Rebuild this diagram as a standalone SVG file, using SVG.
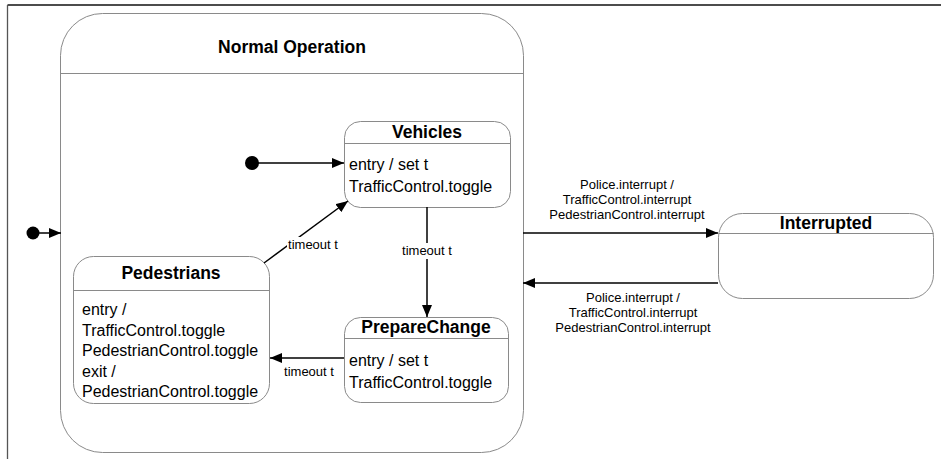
<svg xmlns="http://www.w3.org/2000/svg" width="941" height="459" viewBox="0 0 941 459">
  <style>
    .state { fill: #ffffff; stroke: #8a8a8a; stroke-width: 1; }
    .sep { stroke: #8a8a8a; stroke-width: 1; }
    .title { font-family: "Liberation Sans", Arial, sans-serif; font-weight: bold; font-size: 17.5px; fill: #000; text-anchor: middle; }
    .body { font-family: "Liberation Sans", Arial, sans-serif; font-size: 16px; fill: #000; }
    .lbl { font-family: "Liberation Sans", Arial, sans-serif; font-size: 13px; fill: #000; text-anchor: middle; }
    .edge { stroke: #000; stroke-width: 1.5; fill: none; marker-end: url(#arrow); }
    .dot { fill: #000; }
    .bg { fill: #ffffff; }
  </style>
  <defs>
    <marker id="arrow" viewBox="0 0 12 10" refX="12" refY="5" markerWidth="12" markerHeight="10" markerUnits="userSpaceOnUse" orient="auto">
      <path d="M0,0 L12,5 L0,10 Z" fill="#000"/>
    </marker>
  </defs>

  <rect width="941" height="459" fill="#ffffff"/>

  <!-- frame -->
  <g id="frame">
    <line x1="7.5" y1="5" x2="941" y2="5" stroke="#111" stroke-width="1.5"/>
    <line x1="7.5" y1="5" x2="7.5" y2="459" stroke="#555" stroke-width="1.3"/>
  </g>

  <!-- composite state -->
  <g id="normal-operation">
    <rect class="state" x="60.5" y="13.5" width="463" height="439" rx="42" ry="42"/>
    <line class="sep" x1="60.5" y1="73.5" x2="523.5" y2="73.5"/>
    <text class="title" x="292" y="53" font-size="18.5">Normal Operation</text>
  </g>

  <g id="vehicles">
    <rect class="state" x="344.5" y="121.5" width="166" height="86" rx="16" ry="16"/>
    <line class="sep" x1="344.5" y1="143.5" x2="510.5" y2="143.5"/>
    <text class="title" x="427" y="138">Vehicles</text>
    <text class="body" x="349" y="170">entry / set t</text>
    <text class="body" x="349" y="192">TrafficControl.toggle</text>
  </g>

  <g id="prepare-change">
    <rect class="state" x="344.5" y="317.5" width="164" height="85" rx="16" ry="16"/>
    <line class="sep" x1="344.5" y1="338.5" x2="508.5" y2="338.5"/>
    <text class="title" x="426" y="333">PrepareChange</text>
    <text class="body" x="349" y="366">entry / set t</text>
    <text class="body" x="349" y="388">TrafficControl.toggle</text>
  </g>

  <g id="pedestrians">
    <rect class="state" x="73.5" y="256.5" width="196" height="147" rx="20" ry="20"/>
    <line class="sep" x1="73.5" y1="290.5" x2="269.5" y2="290.5"/>
    <text class="title" x="171" y="279">Pedestrians</text>
    <text class="body" x="82" y="315">entry /</text>
    <text class="body" x="82" y="335.5">TrafficControl.toggle</text>
    <text class="body" x="82" y="356">PedestrianControl.toggle</text>
    <text class="body" x="82" y="376.5">exit /</text>
    <text class="body" x="82" y="397">PedestrianControl.toggle</text>
  </g>

  <g id="interrupted">
    <rect class="state" x="718.5" y="213.5" width="215" height="85" rx="24" ry="24"/>
    <line class="sep" x1="718.5" y1="233.5" x2="933.5" y2="233.5"/>
    <text class="title" x="826" y="229">Interrupted</text>
  </g>

  <!-- initial pseudo-states -->
  <g id="initial-outer">
    <circle class="dot" cx="33" cy="233" r="6.5"/>
  </g>
  <g id="initial-inner">
    <circle class="dot" cx="252" cy="163" r="7"/>
  </g>

  <!-- transitions -->
  <g id="connectors">
    <line class="edge" x1="38" y1="233" x2="61" y2="233"/>
    <line class="edge" x1="258" y1="163" x2="344" y2="163"/>

    <line class="edge" x1="427" y1="207" x2="427" y2="317"/>
    <rect class="bg" x="399" y="243" width="56" height="16"/>
    <text class="lbl" x="427" y="255">timeout t</text>

    <line class="edge" x1="344" y1="358" x2="270" y2="358"/>
    <text class="lbl" x="309" y="376">timeout t</text>

    <line class="edge" x1="264" y1="263" x2="348" y2="201"/>
    <rect class="bg" x="287" y="237" width="52" height="15"/>
    <text class="lbl" x="313" y="249">timeout t</text>

    <line class="edge" x1="523" y1="233" x2="718" y2="233"/>
    <text class="lbl" x="627" y="189">Police.interrupt /</text>
    <text class="lbl" x="627" y="204">TrafficControl.interrupt</text>
    <text class="lbl" x="627" y="219">PedestrianControl.interrupt</text>

    <line class="edge" x1="718" y1="283" x2="523" y2="283"/>
    <text class="lbl" x="633" y="302">Police.interrupt /</text>
    <text class="lbl" x="633" y="317">TrafficControl.interrupt</text>
    <text class="lbl" x="633" y="332">PedestrianControl.interrupt</text>
  </g>
</svg>
